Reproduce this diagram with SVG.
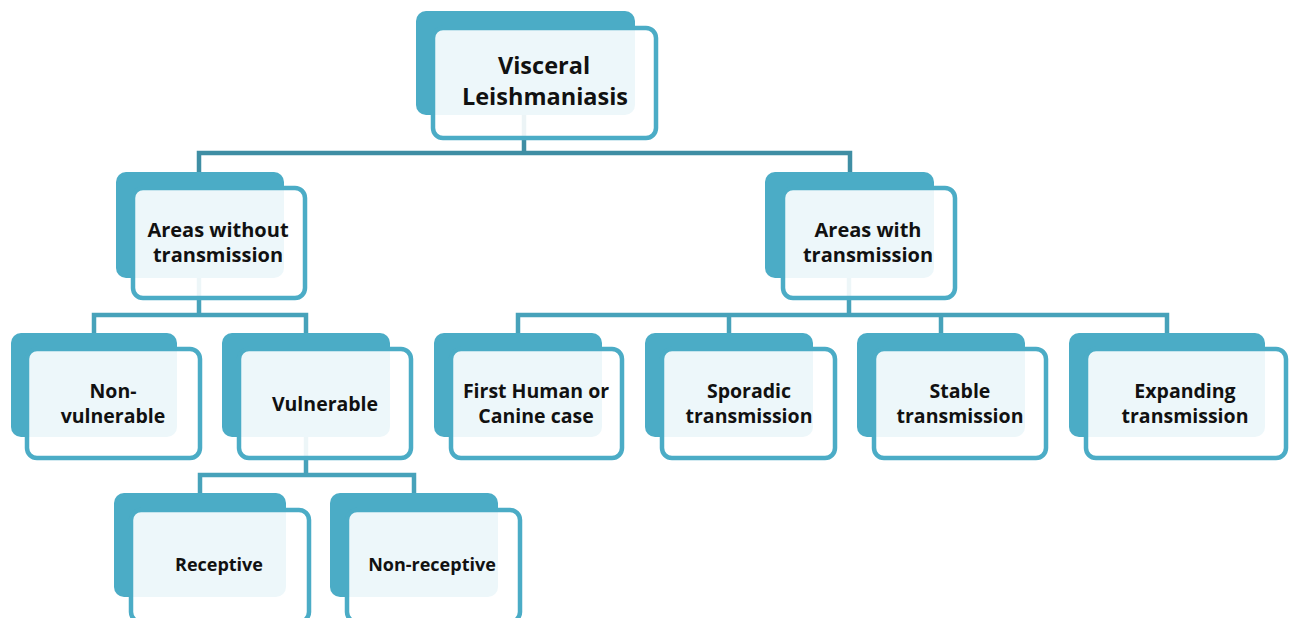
<svg xmlns="http://www.w3.org/2000/svg" width="1289" height="618" viewBox="0 0 1289 618">
<style>
.bk{fill:#4BACC6}
.fr{fill:#FFFFFF;fill-opacity:0.9;stroke:#4BACC6;stroke-width:4.5}
.c1{fill:none;stroke:#3F8EA4;stroke-width:4.5;stroke-linejoin:miter}
.c2{fill:none;stroke:#47A2BA;stroke-width:4.5;stroke-linejoin:miter}
text{font-family:"Open Sans","Liberation Sans",sans-serif;font-weight:700;fill:#111111;text-anchor:middle}
.t1{font-size:23.5px}
.t2{font-size:20px}
.t3{font-size:19.5px}
.t4{font-size:18px}
</style>
<rect width="1289" height="618" fill="#FFFFFF"/>
<g id="connectors">
<path class="c1" d="M524,115 V153 M199,172 V153 H850 V172"/>
<path class="c2" d="M199,278 V315 M94,333 V315 H306 V333"/>
<path class="c2" d="M849,278 V315 M518,333 V315 H1167 V333 M729,315 V333 M941,315 V333"/>
<path class="c2" d="M306,437 V475 M200,493 V475 H414 V493"/>
</g>
<g id="n-visceral">
<rect class="bk" x="416" y="11" width="219" height="104" rx="10"/>
<rect class="fr" x="433" y="28" width="223" height="110" rx="10"/>
<text class="t1" x="544" y="74">Visceral</text>
<text class="t1" x="545" y="105">Leishmaniasis</text>
</g>
<g id="n-without">
<rect class="bk" x="116" y="172" width="168" height="106" rx="10"/>
<rect class="fr" x="133" y="188" width="172" height="110" rx="10"/>
<text class="t2" x="218" y="237">Areas without</text>
<text class="t2" x="218" y="262">transmission</text>
</g>
<g id="n-with">
<rect class="bk" x="765" y="172" width="169" height="106" rx="10"/>
<rect class="fr" x="783" y="188" width="172" height="110" rx="10"/>
<text class="t2" x="868" y="237">Areas with</text>
<text class="t2" x="868" y="262">transmission</text>
</g>
<g id="n-nonvulnerable">
<rect class="bk" x="11" y="333" width="166" height="104" rx="10"/>
<rect class="fr" x="27" y="349" width="173" height="109" rx="10"/>
<text class="t3" x="113" y="398">Non-</text>
<text class="t3" x="113" y="423">vulnerable</text>
</g>
<g id="n-vulnerable">
<rect class="bk" x="222" y="333" width="168" height="104" rx="10"/>
<rect class="fr" x="239" y="349" width="172" height="109" rx="10"/>
<text class="t3" x="325" y="411">Vulnerable</text>
</g>
<g id="n-first">
<rect class="bk" x="434" y="333" width="168" height="104" rx="10"/>
<rect class="fr" x="451" y="349" width="171" height="109" rx="10"/>
<text class="t3" x="536" y="398">First Human or</text>
<text class="t3" x="536" y="423">Canine case</text>
</g>
<g id="n-sporadic">
<rect class="bk" x="645" y="333" width="168" height="104" rx="10"/>
<rect class="fr" x="662" y="349" width="173" height="109" rx="10"/>
<text class="t3" x="749" y="398">Sporadic</text>
<text class="t3" x="749" y="423">transmission</text>
</g>
<g id="n-stable">
<rect class="bk" x="857" y="333" width="168" height="104" rx="10"/>
<rect class="fr" x="874" y="349" width="172" height="109" rx="10"/>
<text class="t3" x="960" y="398">Stable</text>
<text class="t3" x="960" y="423">transmission</text>
</g>
<g id="n-expanding">
<rect class="bk" x="1069" y="333" width="196" height="104" rx="10"/>
<rect class="fr" x="1086" y="349" width="200" height="109" rx="10"/>
<text class="t3" x="1185" y="398">Expanding</text>
<text class="t3" x="1185" y="423">transmission</text>
</g>
<g id="n-receptive">
<rect class="bk" x="114" y="493" width="172" height="104" rx="10"/>
<rect class="fr" x="131" y="510" width="178" height="112" rx="10"/>
<text class="t4" x="219" y="571">Receptive</text>
</g>
<g id="n-nonreceptive">
<rect class="bk" x="330" y="493" width="168" height="104" rx="10"/>
<rect class="fr" x="347" y="510" width="173" height="112" rx="10"/>
<text class="t4" x="432" y="571">Non-receptive</text>
</g>
</svg>
